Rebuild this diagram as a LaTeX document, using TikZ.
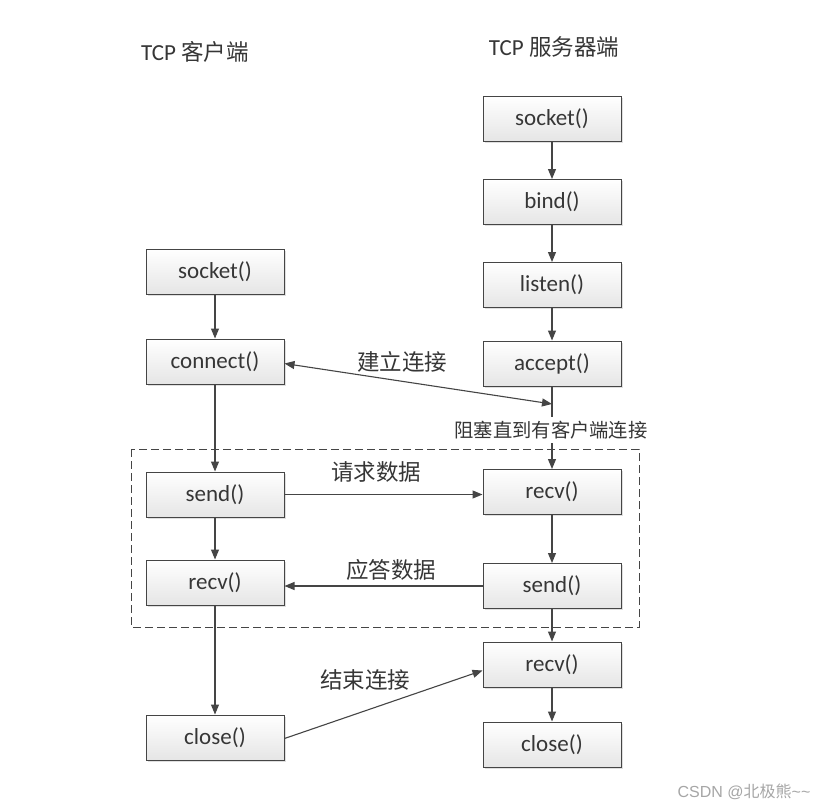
\documentclass[tikz,border=0pt]{standalone}
\usepackage{fontspec}
\setmainfont{Carlito}
\newfontfamily\cjk{Noto Sans CJK SC}
\newfontfamily\wmfont{Liberation Sans}
\usetikzlibrary{arrows.meta,shadows}
\definecolor{txt}{HTML}{363636}
\definecolor{ln}{HTML}{454545}
\begin{document}
\begin{tikzpicture}[x=1pt,y=-1pt,
  fn/.style={draw=ln, line width=1pt, top color=white, bottom color=gray!20,
    minimum width=138pt, minimum height=45pt, inner sep=0pt,
    font=\fontsize{23}{26}\selectfont, text=txt,
    drop shadow={shadow xshift=1.5pt, shadow yshift=-1.5pt, opacity=0.25, fill=gray}},
  arr/.style={draw=ln, line width=1.1pt, -{Triangle[length=10pt,width=8pt]}},
  dbl/.style={draw=ln, line width=1.1pt, {Triangle[length=10pt,width=8pt]}-{Triangle[length=10pt,width=8pt]}},
  plain/.style={draw=ln, line width=1.1pt},
  lab/.style={font=\cjk\fontsize{22.5}{26}\selectfont, text=txt, inner sep=1pt},
  ttl/.style={font=\fontsize{23}{26}\selectfont, text=txt, inner sep=1pt}]
\fill[white] (0,0) rectangle (825,811);
\useasboundingbox (0,0) rectangle (825,811);

% titles
\node[ttl] (tc) at (195,52) {TCP {\cjk\fontsize{22.5}{26}\selectfont 客户端}};
\node[ttl] (ts) at (554,47) {TCP {\cjk\fontsize{22.5}{26}\selectfont 服务器端}};

% group box
\draw[ln, line width=0.9pt, dash pattern=on 8pt off 4pt] (131,449) rectangle (639,627);

% server column
\node[fn] (ss)  at (552,118.5) {socket()};
\node[fn] (sb)  at (552,202)   {bind()};
\node[fn] (sl)  at (552,285)   {listen()};
\node[fn] (sa)  at (552,363.5) {accept()};
\node[fn] (sr)  at (552,492)   {recv()};
\node[fn] (sd)  at (552,586)   {send()};
\node[fn] (sr2) at (552,664.5) {recv()};
\node[fn] (sc)  at (552,744.5) {close()};

% client column
\node[fn] (cs)  at (215,271.5) {socket()};
\node[fn] (cc)  at (215,361.5) {connect()};
\node[fn] (cd)  at (215,494.5) {send()};
\node[fn] (cr)  at (215,582.5) {recv()};
\node[fn] (cx)  at (215,737.5) {close()};

% blocking label
\node[font=\cjk\fontsize{19.3}{22}\selectfont, text=txt, fill=white, inner sep=4pt] (blk) at (551,430) {阻塞直到有客户端连接};
\coordinate (j) at (552,404);

% server arrows
\draw[arr] (ss) -- (sb);
\draw[arr] (sb) -- (sl);
\draw[arr] (sl) -- (sa);
\draw[plain] (sa) -- (sa |- blk.north);
\draw[arr] (sa |- blk.south) -- (sr);
\draw[arr] (sr) -- (sd);
\draw[arr] (sd) -- (sr2);
\draw[arr] (sr2) -- (sc);

% client arrows
\draw[arr] (cs) -- (cc);
\draw[arr] (cc) -- (cd);
\draw[arr] (cd) -- (cr);
\draw[arr] (cr) -- (cx);

% cross arrows
\draw[dbl] ([yshift=-2pt]cc.east) -- (j);
\draw[arr] (cd.east) -- (cd.east -| sr.west);
\draw[arr] (sd.west) -- (sd.west -| cr.east);
\draw[arr] ([yshift=-1pt]cx.east) -- ([yshift=-6pt]sr2.west);

% labels
\node[lab] (l1) at (402,362) {建立连接};
\node[lab] (l2) at (376,472) {请求数据};
\node[lab] (l3) at (391,570) {应答数据};
\node[lab] (l4) at (365,680) {结束连接};

% watermark
\node[text=gray!70, inner sep=0pt, font=\fontsize{16}{19}\selectfont] (wm) at (744,792) {{\wmfont CSDN @}{\cjk 北极熊}{\wmfont \~{}\~{}}};
\end{tikzpicture}
\end{document}
